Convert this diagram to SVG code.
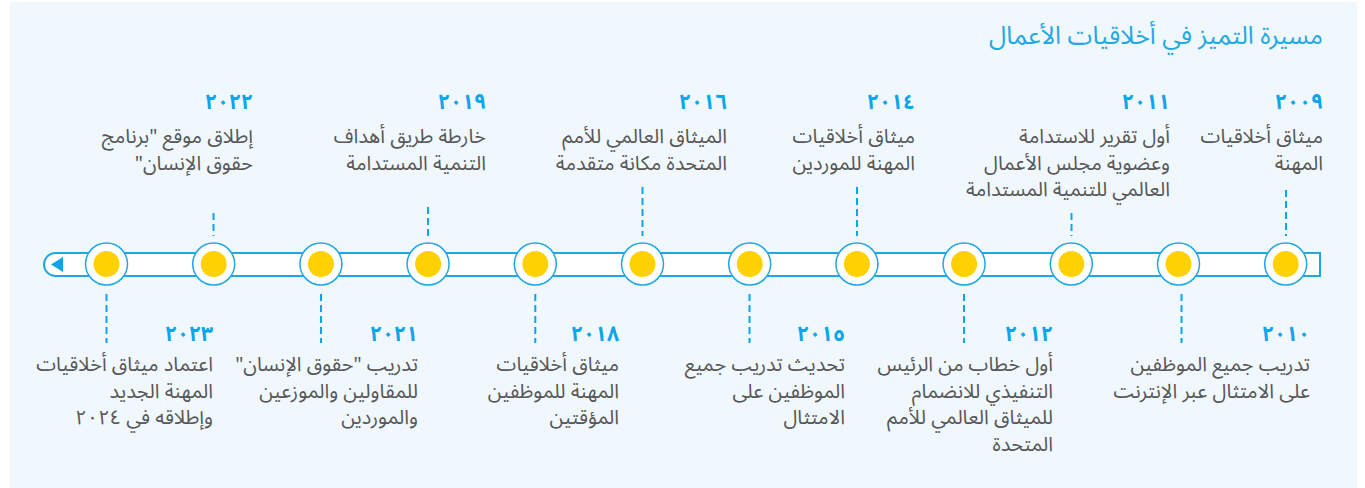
<svg xmlns="http://www.w3.org/2000/svg" width="1365" height="488" viewBox="0 0 1365 488">
<style>
.bg{fill:#f0f8fe}
.title{font-family:"Noto Sans Arabic","DejaVu Sans",sans-serif;font-size:25px;fill:#22a8e4;direction:rtl}
.yr{font-family:"Noto Sans Arabic","DejaVu Sans",sans-serif;font-size:21px;font-weight:bold;fill:#0ba5ec;direction:rtl}
.tx{font-family:"Noto Sans Arabic","DejaVu Sans",sans-serif;font-size:20px;fill:#575757;direction:rtl}
.dot-o{fill:#fff;stroke:#1ea7e6;stroke-width:1.5}
.dot-i{fill:#ffd100}
.dash{stroke:#0ba5ec;stroke-width:2;stroke-dasharray:7 4;fill:none}
</style>
<rect class="bg" x="10" y="2" width="1347" height="486"/>
<text class="title" x="1323" y="44" text-anchor="start">مسيرة التميز في أخلاقيات الأعمال</text>
<g id="timeline">
<path d="M55.5 253 H1320 V276 H55.5 A11.5 11.5 0 0 1 55.5 253 Z" fill="#fff" stroke="#1ea7e6" stroke-width="2"/>
<polygon points="51,264.5 63,257 63,272" fill="#0ba5ec"/>
</g>
<g id="connectors">
<line class="dash" x1="1286" y1="190" x2="1286" y2="236"/>
<line class="dash" x1="1071.5" y1="213" x2="1071.5" y2="236"/>
<line class="dash" x1="857" y1="187" x2="857" y2="236"/>
<line class="dash" x1="642.5" y1="187" x2="642.5" y2="236"/>
<line class="dash" x1="428" y1="207" x2="428" y2="236"/>
<line class="dash" x1="213.5" y1="213" x2="213.5" y2="236"/>
<line class="dash" x1="106.5" y1="294" x2="106.5" y2="343"/>
<line class="dash" x1="321" y1="294" x2="321" y2="343"/>
<line class="dash" x1="535.3" y1="294" x2="535.3" y2="343"/>
<line class="dash" x1="749.5" y1="294" x2="749.5" y2="343"/>
<line class="dash" x1="964" y1="294" x2="964" y2="343"/>
<line class="dash" x1="1181.5" y1="294" x2="1181.5" y2="343"/>
</g>
<g id="n2009">
<circle class="dot-o" cx="1285.7" cy="264" r="21"/><circle class="dot-i" cx="1285.7" cy="264" r="13"/>
<text class="yr" x="1323" y="109" text-anchor="start">٢٠٠٩</text>
<text class="tx" text-anchor="start"><tspan x="1323" y="143">ميثاق أخلاقيات</tspan><tspan x="1323" y="169.5">المهنة</tspan></text>
</g>
<g id="n2010">
<circle class="dot-o" cx="1178.5" cy="264" r="21"/><circle class="dot-i" cx="1178.5" cy="264" r="13"/>
<text class="yr" x="1310" y="341" text-anchor="start">٢٠١٠</text>
<text class="tx" text-anchor="start"><tspan x="1310" y="371">تدريب جميع الموظفين</tspan><tspan x="1310" y="397.5">على الامتثال عبر الإنترنت</tspan></text>
</g>
<g id="n2011">
<circle class="dot-o" cx="1071.3" cy="264" r="21"/><circle class="dot-i" cx="1071.3" cy="264" r="13"/>
<text class="yr" x="1170" y="109" text-anchor="start">٢٠١١</text>
<text class="tx" text-anchor="start"><tspan x="1170" y="143">أول تقرير للاستدامة</tspan><tspan x="1170" y="169.5">وعضوية مجلس الأعمال</tspan><tspan x="1170" y="196">العالمي للتنمية المستدامة</tspan></text>
</g>
<g id="n2012">
<circle class="dot-o" cx="964.1" cy="264" r="21"/><circle class="dot-i" cx="964.1" cy="264" r="13"/>
<text class="yr" x="1053" y="341" text-anchor="start">٢٠١٢</text>
<text class="tx" text-anchor="start"><tspan x="1053" y="371">أول خطاب من الرئيس</tspan><tspan x="1053" y="397.5">التنفيذي للانضمام</tspan><tspan x="1053" y="424">للميثاق العالمي للأمم</tspan><tspan x="1053" y="450.5">المتحدة</tspan></text>
</g>
<g id="n2014">
<circle class="dot-o" cx="856.9" cy="264" r="21"/><circle class="dot-i" cx="856.9" cy="264" r="13"/>
<text class="yr" x="915" y="109" text-anchor="start">٢٠١٤</text>
<text class="tx" text-anchor="start"><tspan x="915" y="143">ميثاق أخلاقيات</tspan><tspan x="915" y="169.5">المهنة للموردين</tspan></text>
</g>
<g id="n2015">
<circle class="dot-o" cx="749.7" cy="264" r="21"/><circle class="dot-i" cx="749.7" cy="264" r="13"/>
<text class="yr" x="845" y="341" text-anchor="start">٢٠١٥</text>
<text class="tx" text-anchor="start"><tspan x="845" y="371">تحديث تدريب جميع</tspan><tspan x="845" y="397.5">الموظفين على</tspan><tspan x="845" y="424">الامتثال</tspan></text>
</g>
<g id="n2016">
<circle class="dot-o" cx="642.5" cy="264" r="21"/><circle class="dot-i" cx="642.5" cy="264" r="13"/>
<text class="yr" x="727" y="109" text-anchor="start">٢٠١٦</text>
<text class="tx" text-anchor="start"><tspan x="727" y="143">الميثاق العالمي للأمم</tspan><tspan x="727" y="169.5">المتحدة مكانة متقدمة</tspan></text>
</g>
<g id="n2018">
<circle class="dot-o" cx="535.3" cy="264" r="21"/><circle class="dot-i" cx="535.3" cy="264" r="13"/>
<text class="yr" x="619" y="341" text-anchor="start">٢٠١٨</text>
<text class="tx" text-anchor="start"><tspan x="619" y="371">ميثاق أخلاقيات</tspan><tspan x="619" y="397.5">المهنة للموظفين</tspan><tspan x="619" y="424">المؤقتين</tspan></text>
</g>
<g id="n2019">
<circle class="dot-o" cx="428.1" cy="264" r="21"/><circle class="dot-i" cx="428.1" cy="264" r="13"/>
<text class="yr" x="486" y="109" text-anchor="start">٢٠١٩</text>
<text class="tx" text-anchor="start"><tspan x="486" y="143">خارطة طريق أهداف</tspan><tspan x="486" y="169.5">التنمية المستدامة</tspan></text>
</g>
<g id="n2021">
<circle class="dot-o" cx="320.9" cy="264" r="21"/><circle class="dot-i" cx="320.9" cy="264" r="13"/>
<text class="yr" x="418" y="341" text-anchor="start">٢٠٢١</text>
<text class="tx" text-anchor="start"><tspan x="418" y="371">تدريب "حقوق الإنسان"</tspan><tspan x="418" y="397.5">للمقاولين والموزعين</tspan><tspan x="418" y="424">والموردين</tspan></text>
</g>
<g id="n2022">
<circle class="dot-o" cx="213.7" cy="264" r="21"/><circle class="dot-i" cx="213.7" cy="264" r="13"/>
<text class="yr" x="253" y="109" text-anchor="start">٢٠٢٢</text>
<text class="tx" text-anchor="start"><tspan x="253" y="143">إطلاق موقع "برنامج</tspan><tspan x="253" y="169.5">حقوق الإنسان"</tspan></text>
</g>
<g id="n2023">
<circle class="dot-o" cx="106.5" cy="264" r="21"/><circle class="dot-i" cx="106.5" cy="264" r="13"/>
<text class="yr" x="213" y="341" text-anchor="start">٢٠٢٣</text>
<text class="tx" text-anchor="start"><tspan x="213" y="371">اعتماد ميثاق أخلاقيات</tspan><tspan x="213" y="397.5">المهنة الجديد</tspan><tspan x="213" y="424">وإطلاقه في ٢٠٢٤</tspan></text>
</g>
</svg>
